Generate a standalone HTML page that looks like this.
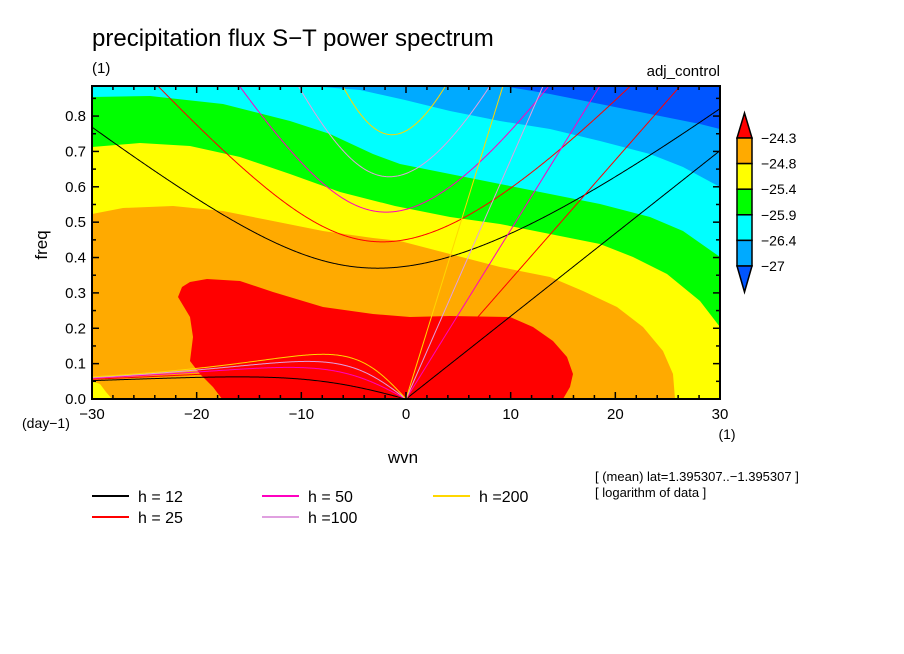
<!DOCTYPE html>
<html><head><meta charset="utf-8"><style>
html,body{margin:0;padding:0;background:#fff;}
svg{display:block;font-family:"Liberation Sans",sans-serif;}
</style></head><body>
<svg id="chart" width="904" height="654" viewBox="0 0 904 654" xmlns="http://www.w3.org/2000/svg">
<defs><clipPath id="pc"><rect x="92" y="86" width="628" height="313"/></clipPath></defs>
<rect width="904" height="654" fill="#fff"/>
<text x="92" y="46" font-size="24">precipitation flux S−T power spectrum</text>
<text x="92" y="73" font-size="15">(1)</text>
<text x="720" y="76" font-size="15" text-anchor="end">adj_control</text>
<g id="fills" clip-path="url(#pc)"></g>
<g id="curves" clip-path="url(#pc)"></g>
<g id="axes"></g>
<text transform="translate(47,245) rotate(-90)" font-size="17" text-anchor="middle">freq</text>
<text x="403" y="463" font-size="17" text-anchor="middle">wvn</text>
<text x="22" y="428" font-size="14">(day−1)</text>
<text x="727" y="439" font-size="14" text-anchor="middle">(1)</text>
<text x="595" y="481" font-size="13">[ (mean) lat=1.395307..−1.395307 ]</text>
<text x="595" y="497" font-size="13">[ logarithm of data ]</text>
<g id="legend"></g>
<g id="cbar"></g>
</svg>
<script>
const NS="http://www.w3.org/2000/svg";
const hValues=[12,25,50,100,200];
const hColors=["#000000","#ff0000","#ff00c0","#e0a0e0","#ffd700"];
const xTicks=[-30,-20,-10,0,10,20,30];
const yTicks=[0,0.1,0.2,0.3,0.4,0.5,0.6,0.7,0.8];
const levels=["-24.3","-24.8","-25.4","-25.9","-26.4","-27"];
const fillColors=["#ff0000","#ffaa00","#ffff00","#00ff00","#00ffff","#00aaff","#0055ff"];
const X0=92,X1=720,Y0=399,YT=86,XMIN=-30,XMAX=30,YMAX=0.885;
function sx(k){return X0+(k-XMIN)/(XMAX-XMIN)*(X1-X0);}
function sy(f){return Y0-f/YMAX*(Y0-YT);}
function mk(tag,attrs,parent){const e=document.createElementNS(NS,tag);for(const a in attrs)e.setAttribute(a,attrs[a]);parent.appendChild(e);return e;}
const fills=document.getElementById('fills');
const regions=[
 ["blue-region",5,"503,86 550,94 600,104 650,114 700,124 720,129 720,399 92,399 92,86"],
 ["cyan-region",4,"310,86 360,90 405,100 450,111 500,121 550,129 600,141 650,154 683,167 720,187 720,399 92,399 92,86"],
 ["green-region",3,"92,97 150,96 223,104 290,121 330,134 373,154 400,164 450,174 500,184 550,194 600,204 650,217 683,231 720,257 720,399 92,399"],
 ["yellow-region",2,"92,147 140,143 190,146 240,157 290,174 340,192 395,206 450,217 500,224 550,234 600,244 633,257 667,274 700,301 720,327 720,399 92,399"],
 ["orange-region",1,"92,214 123,208 173,206 223,211 273,221 323,231 373,238 400,241 450,254 500,267 550,277 583,291 617,307 643,327 663,351 673,374 675,399 92,399"],
 ["yellow-corner",2,"92,381 100,384 106,392 112,399 92,399"],
 ["red-region",0,"178,297 182,287 190,282 207,279 240,281 273,292 323,307 373,314 410,317 450,316 510,317 533,327 553,341 567,357 573,374 570,387 563,399 222,399 213,387 200,374 190,361 193,337 190,317"]
];
mk('rect',{x:92,y:86,width:628,height:313,fill:fillColors[6]},fills);
regions.forEach(r=>{const p=mk('polygon',{points:r[2],fill:fillColors[r[1]]},fills);

});
const g=9.8,R=6.371e6,OM=7.292e-5,BETA=2*OM/R,CPD=86400/(2*Math.PI);
function igRoot(k,c){let w=Math.sqrt(c*c*k*k+3*BETA*c)+1e-9;for(let i=0;i<60;i++){const f=w*w*w-(c*c*k*k+3*BETA*c)*w-BETA*c*c*k;const d=3*w*w-(c*c*k*k+3*BETA*c);w-=f/d;}return w;}
function erRoot(k,c){return -BETA*k/(k*k+3*BETA/c);}
const curves=document.getElementById('curves');
hValues.forEach((h,i)=>{const c=Math.sqrt(g*h);let ig=[],er=[],kv=[];
for(let s=-30;s<=30.001;s+=0.1){const k=s/R;ig.push(sx(s).toFixed(2)+","+sy(igRoot(k,c)*CPD).toFixed(2));
if(s<=0.0001){er.push(sx(s).toFixed(2)+","+sy(Math.max(0,erRoot(k,c))*CPD).toFixed(2));}
else kv.push(sx(s).toFixed(2)+","+sy(c*k*CPD).toFixed(2));}
er.push(sx(0)+","+sy(0));
kv.unshift(sx(0)+","+sy(0));
[[ig,'ig'],[er,'rossby'],[kv,'kelvin']].forEach(([pts,nm])=>{const e=mk('polyline',{points:pts.join(' '),fill:'none',stroke:hColors[i],'stroke-width':1},curves);

});});
const ax=document.getElementById('axes');
mk('rect',{x:92,y:86,width:628,height:313,fill:'none',stroke:'#000','stroke-width':2},ax);
for(let s=-30;s<=30;s+=2){const maj=s%10===0,L=maj?7:4;
mk('line',{x1:sx(s),x2:sx(s),y1:399,y2:399-L,stroke:'#000','stroke-width':1.5},ax);
mk('line',{x1:sx(s),x2:sx(s),y1:86,y2:86+L,stroke:'#000','stroke-width':1.5},ax);}
for(let f=0;f<=0.88;f+=0.05){const maj=Math.abs(f*10-Math.round(f*10))<1e-6,L=maj?7:4;
mk('line',{x1:92,x2:92+L,y1:sy(f),y2:sy(f),stroke:'#000','stroke-width':1.5},ax);
mk('line',{x1:720,x2:720-L,y1:sy(f),y2:sy(f),stroke:'#000','stroke-width':1.5},ax);}
xTicks.forEach(v=>{const t=mk('text',{x:sx(v),y:419,'font-size':15,'text-anchor':'middle'},ax);t.textContent=(v<0?'−':'')+Math.abs(v);

});
yTicks.forEach(v=>{const t=mk('text',{x:86,y:sy(v)+5,'font-size':15,'text-anchor':'end'},ax);t.textContent=v.toFixed(1);

});
const lg=document.getElementById('legend');
const lpos=[[92,496],[92,517],[262,496],[262,517],[433,496]];
const ltxt=["h = 12","h = 25","h = 50","h =100","h =200"];
hValues.forEach((h,i)=>{const [x,y]=lpos[i];
const l=mk('line',{x1:x,x2:x+37,y1:y,y2:y,stroke:hColors[i],'stroke-width':2},lg);


const t=mk('text',{x:x+46,y:y+6,'font-size':16},lg);t.textContent=ltxt[i];

});
const cb=document.getElementById('cbar');
const bx=737,bw=15,btop=138,bh=25.6;
mk('polygon',{points:`${bx},${btop} ${bx+bw},${btop} ${bx+bw/2},113`,fill:fillColors[0],stroke:'#000','stroke-width':1.5},cb);
for(let i=0;i<5;i++){mk('rect',{x:bx,y:btop+i*bh,width:bw,height:bh,fill:fillColors[i+1],stroke:'#000','stroke-width':1.5},cb);}
const bb=btop+5*bh;
mk('polygon',{points:`${bx},${bb} ${bx+bw},${bb} ${bx+bw/2},292`,fill:fillColors[6],stroke:'#000','stroke-width':1.5},cb);
levels.forEach((lv,i)=>{const t=mk('text',{x:761,y:btop+i*bh+5,'font-size':14},cb);t.textContent=lv.replace('-','−');

});
</script>
</body></html>
